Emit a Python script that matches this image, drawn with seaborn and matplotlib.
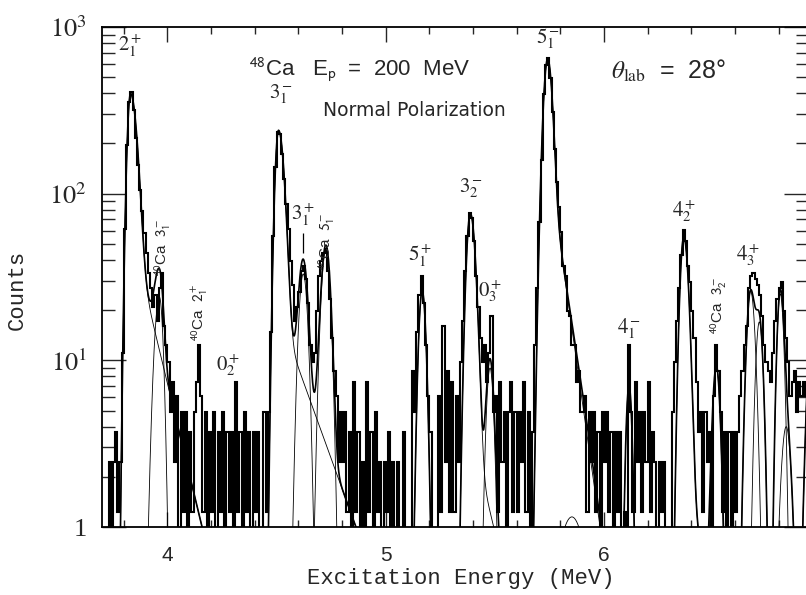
import numpy as np
import matplotlib
matplotlib.use("Agg")
import matplotlib.pyplot as plt
import seaborn as sns
from matplotlib.ticker import FixedLocator, MultipleLocator, NullFormatter, FixedFormatter

# ---------------- data ----------------
E_START = 3.70          # MeV, left edge of first channel
BIN_WIDTH = 0.01        # MeV per channel
COUNT_UNIT = 1.23       # counts per recorded event (normalisation)

# recorded events per channel, rows of 10 channels (3.70, 3.80, ... MeV)
counts = [
    0, 0, 0, 2, 0, 2, 3, 1, 2, 9,            # 3.70
    50, 160, 290, 330, 260, 175, 120, 86, 64, 47,   # 3.80
    36, 27, 22, 17, 20, 14, 22, 27, 13, 10,  # 3.90
    8, 4, 6, 2, 5, 0, 4, 1, 4, 0,            # 4.00
    3, 1, 4, 6, 10, 5, 1, 4, 0, 3,           # 4.10
    1, 4, 0, 3, 1, 4, 0, 3, 1, 3,            # 4.20
    0, 6, 1, 3, 0, 4, 1, 3, 0, 3,            # 4.30
    1, 3, 0, 0, 4, 1, 4, 12, 45, 118,        # 4.40
    190, 185, 140, 100, 70, 50, 32, 23, 14, 17,  # 4.50
    21, 28, 30, 25, 18, 10, 8, 9, 16, 26,    # 4.60
    32, 36, 38, 28, 19, 11, 7, 5, 2, 4,      # 4.70
    2, 4, 1, 3, 0, 6, 1, 3, 0, 2,            # 4.80
    0, 6, 1, 3, 0, 4, 1, 2, 0, 2,            # 4.90
    1, 3, 0, 2, 0, 2, 0, 0, 3, 0,            # 5.00
    0, 0, 7, 4, 12, 20, 26, 18, 10, 5,       # 5.10
    3, 0, 0, 0, 5, 1, 13, 2, 7, 1,           # 5.20
    6, 1, 5, 2, 8, 14, 28, 45, 62, 58,       # 5.30
    42, 26, 17, 11, 8, 10, 6, 9, 15, 4,      # 5.40
    5, 1, 6, 2, 4, 0, 4, 6, 1, 4,            # 5.50
    1, 4, 2, 6, 1, 4, 0, 3, 10, 22,          # 5.60
    55, 130, 320, 480, 530, 400, 250, 150, 95, 68,  # 5.70
    48, 30, 26, 16, 15, 10, 10, 6, 7, 4,     # 5.80
    4, 5, 1, 4, 2, 4, 1, 3, 0, 4,            # 5.90
    2, 4, 1, 3, 0, 3, 1, 3, 0, 1,            # 6.00
    0, 10, 4, 1, 6, 2, 4, 1, 4, 2,           # 6.10
    6, 1, 3, 2, 0, 2, 1, 2, 0, 0,            # 6.20
    0, 4, 8, 14, 22, 35, 49, 42, 30, 24,     # 6.30
    16, 11, 6, 3, 4, 1, 4, 2, 3, 0,          # 6.40
    5, 10, 7, 4, 1, 3, 0, 3, 0, 3,           # 6.50
    1, 3, 5, 7, 10, 13, 22, 26, 27, 25,      # 6.60
    23, 20, 15, 10, 8, 7, 6, 9, 14, 19,      # 6.70
    22, 24, 16, 11, 8, 5, 6, 7, 4, 6,        # 6.80
    5, 6, 5,                                 # 6.90
]

# fitted peak components: centroid (MeV), height (counts), widths, tail
peak_centre = [3.831, 3.963, 4.509, 4.622, 4.726, 5.167, 5.388, 5.478, 5.743,
               5.853, 6.115, 6.366, 6.515, 6.672, 6.712, 6.808, 6.835, 6.960]
peak_height = [400, 24, 240, 33, 46, 26, 76, 9, 650,
               1.15, 7, 55, 9, 26, 17, 25, 4, 20]
sigma_left = [0.0134, 0.020, 0.014, 0.018, 0.019, 0.014, 0.016, 0.015, 0.018,
              0.060, 0.012, 0.015, 0.015, 0.016, 0.015, 0.013, 0.020, 0.020]
sigma_right = [0.025, 0.015, 0.022, 0.018, 0.018, 0.015, 0.020, 0.015, 0.018,
               0.060, 0.012, 0.018, 0.015, 0.018, 0.015, 0.014, 0.020, 0.020]
tail_fraction = [0.15, 0, 0.08, 0, 0, 0, 0.05, 0, 0.25,
                 0, 0, 0.05, 0, 0, 0, 0, 0, 0]
tail_length = [0.08, 0.05, 0.12, 0.05, 0.05, 0.05, 0.08, 0.05, 0.047,
               0.05, 0.05, 0.06, 0.05, 0.05, 0.05, 0.05, 0.05, 0.05]

# state labels
label_text = [r"$2_1^+$", r"$3_1^-$", r"$5_1^-$", r"$3_1^+$", r"$5_1^+$",
              r"$3_2^-$", r"$0_3^+$", r"$0_2^+$", r"$4_1^-$", r"$4_2^+$", r"$4_3^+$"]
label_E = [3.830, 4.520, 5.745, 4.620, 5.156, 5.390, 5.480, 4.280, 6.115, 6.367, 6.660]
label_y = [770, 395, 850, 75, 42.6, 107, 26, 9.3, 15.5, 78, 42.6]

ca40_text = [r"$^{40}$Ca  $3_1^-$", r"$^{40}$Ca  $2_1^+$",
             r"$^{40}$Ca  $5_1^-$", r"$^{40}$Ca  $3_2^-$"]
ca40_E = [3.980, 4.147, 4.730, 6.528]
ca40_y = [47.5, 19.4, 52, 21.3]

marker_E = 4.623
marker_y = (44, 58)

x_major = [4, 5, 6]
x_major_labels = ["4", "5", "6"]
y_major = [1, 10, 100, 1000]
y_major_labels = ["1", r"$10^1$", r"$10^2$", r"$10^3$"]

# ---------------- figure ----------------
sns.set_style("ticks")
plt.rcParams["font.family"] = ["Liberation Serif", "DejaVu Serif"]
plt.rcParams["mathtext.fontset"] = "stix"

fig = plt.figure(figsize=(8.06, 5.95), dpi=100)
ax = fig.add_axes([102 / 806, 1 - 527 / 595, 706 / 806, 500 / 595])

counts_arr = np.array(counts, dtype=float)
edges = E_START + BIN_WIDTH * np.arange(len(counts_arr) + 1)
vals = np.where(counts_arr > 0, counts_arr * COUNT_UNIT, 0.3)
ax.stairs(vals, edges, baseline=None, color="black", linewidth=1.5)

E_fine = np.linspace(3.70, 6.935, 4000)
total = np.zeros_like(E_fine)
for c, h, sl, sr, t, lam in zip(peak_centre, peak_height, sigma_left,
                                sigma_right, tail_fraction, tail_length):
    d = E_fine - c
    left = np.exp(-0.5 * (d / sl) ** 2)
    right = (1 - t) * np.exp(-0.5 * (d / sr) ** 2) + t * np.exp(-np.clip(d, 0, None) / lam)
    comp = h * np.where(d < 0, left, right)
    total += comp
    sns.lineplot(x=E_fine, y=np.clip(comp, 1e-3, None), color="black",
                 linewidth=0.6, ax=ax, estimator=None)
sns.lineplot(x=E_fine, y=np.clip(total, 1e-3, None), color="black",
             linewidth=1.2, ax=ax, estimator=None)

ax.set_yscale("log")
ax.set_xlim(3.70, 6.935)
ax.set_ylim(1, 1000)

ax.xaxis.set_major_locator(FixedLocator(x_major))
ax.xaxis.set_major_formatter(FixedFormatter(x_major_labels))
ax.xaxis.set_minor_locator(MultipleLocator(0.2))
ax.yaxis.set_major_locator(FixedLocator(y_major))
ax.yaxis.set_major_formatter(FixedFormatter(y_major_labels))
ax.yaxis.set_minor_locator(FixedLocator([m * 10 ** k for k in range(3) for m in range(2, 10)]))
ax.yaxis.set_minor_formatter(NullFormatter())

ax.tick_params(axis="x", which="major", direction="in", top=True, bottom=True,
               length=11, width=1, pad=14, labelsize=15,
               labelfontfamily="Liberation Sans")
ax.tick_params(axis="x", which="minor", direction="in", top=True, bottom=True,
               length=5, width=1)
ax.tick_params(axis="y", which="major", direction="in", left=True, right=True,
               length=17, width=1, pad=11, labelsize=19)
ax.tick_params(axis="y", which="minor", direction="in", left=True, right=True,
               length=9, width=1)
for sp in ax.spines.values():
    sp.set_linewidth(1.3)
    sp.set_color("black")

ax.set_xlabel("Excitation Energy (MeV)", fontsize=16,
              fontfamily=["Liberation Mono", "DejaVu Sans Mono"])
ax.xaxis.set_label_coords(0.508, -0.082)
ax.set_ylabel("Counts", fontsize=16,
              fontfamily=["Liberation Mono", "DejaVu Sans Mono"])
ax.yaxis.set_label_coords(-0.105, 0.474)

for txt, xe, yc in zip(label_text, label_E, label_y):
    ax.text(xe, yc, txt, ha="center", va="center", fontsize=15)
for txt, xe, yc in zip(ca40_text, ca40_E, ca40_y):
    ax.text(xe, yc, txt, ha="center", va="center", rotation=90, fontsize=11,
            fontfamily=["Liberation Sans", "DejaVu Sans"], math_fontfamily="stixsans")
ax.vlines(marker_E, marker_y[0], marker_y[1], color="black", linewidth=0.9)

ax.text(0.365, 0.915, r"$^{48}$Ca   E$_{\rm p}$  =  200  MeV", transform=ax.transAxes,
        ha="center", va="center", fontsize=16,
        fontfamily=["Liberation Sans", "DejaVu Sans"], math_fontfamily="stixsans")
ax.text(0.8026, 0.912, r"$\theta_{\rm lab}$  =  28°", transform=ax.transAxes,
        ha="center", va="center", fontsize=18,
        fontfamily=["Liberation Sans", "DejaVu Sans"])
ax.text(0.442, 0.834, "Normal Polarization", transform=ax.transAxes,
        ha="center", va="center", fontsize=13.5,
        fontfamily=["DejaVu Sans"])

fig.savefig("out.png", dpi=100)
